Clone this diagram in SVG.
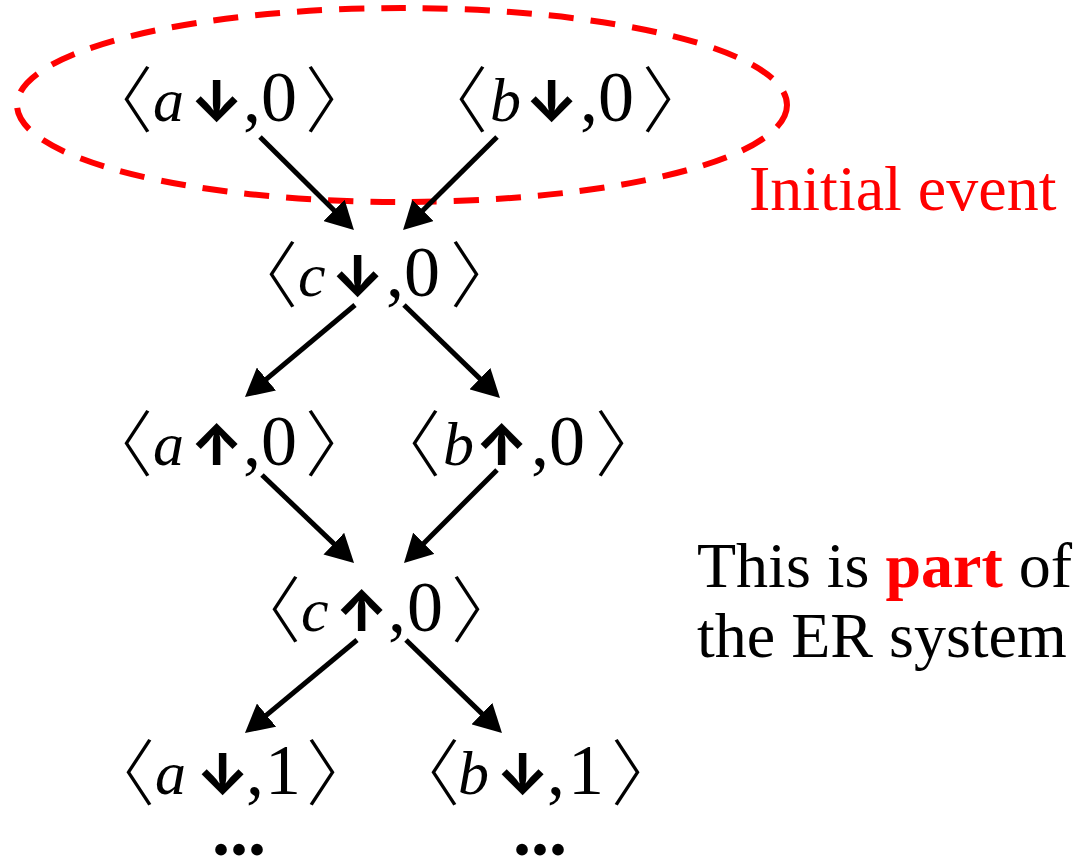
<svg xmlns="http://www.w3.org/2000/svg" width="1076" height="861" viewBox="0 0 1076 861">
<defs>
<style>
.br{font-family:"Noto Sans CJK SC",sans-serif;font-weight:300;font-size:72px;fill:#000}
.v{font-family:"Liberation Serif",serif;font-style:italic;font-size:62px;fill:#000}
.ar{font-family:Inter,sans-serif;font-weight:800;font-size:57px;fill:#000}
.d{font-family:"Liberation Serif",serif;font-size:72px;fill:#000}
.lbl{font-family:"Liberation Serif",serif;font-size:64px}
.conn{stroke:#000;stroke-width:5;fill:none;marker-end:url(#ah)}
</style>
<marker id="ah" viewBox="0 0 28 30" refX="13" refY="15" markerWidth="28" markerHeight="30" markerUnits="userSpaceOnUse" orient="auto">
<path d="M0,0 L28,15 L0,30 z" fill="#000"/>
</marker>
</defs>
<rect width="1076" height="861" fill="#fff"/>
<g id="initial-event">
<ellipse cx="402" cy="105" rx="385" ry="97" fill="none" stroke="#f00" stroke-width="6" stroke-dasharray="25 17"/>
<text class="lbl" x="749" y="210" fill="#f00">Initial event</text>
</g>
<g id="note">
<text class="lbl" x="697" y="587" fill="#000">This is <tspan font-weight="bold" fill="#f00">part</tspan> of</text>
<text class="lbl" x="697" y="657" fill="#000">the ER system</text>
</g>
<g id="connectors">
<path class="conn" d="M260,137 L343.3,219.5"/>
<path class="conn" d="M497,137 L413.7,219.5"/>
<path class="conn" d="M355,305 L256.5,387.4"/>
<path class="conn" d="M404,305 L489.2,387.6"/>
<path class="conn" d="M262,475 L343.2,552.6"/>
<path class="conn" d="M497,470 L414.6,552.4"/>
<path class="conn" d="M357,640 L256.5,723.4"/>
<path class="conn" d="M406,640 L491.2,722.6"/>
</g>
<g id="n-a-down-0" transform="translate(125,121)">
<text class="br" x="-44" y="5">〈</text><text class="v" x="28" y="0">a</text><text class="ar" x="65" y="0">↓</text><text class="d" x="118" y="0">,</text><text class="d" x="136" y="0">0</text><text class="br" x="180" y="5">〉</text>
</g>
<g id="n-b-down-0" transform="translate(460,121)">
<text class="br" x="-44" y="5">〈</text><text class="v" x="30" y="0">b</text><text class="ar" x="65" y="0">↓</text><text class="d" x="120" y="0">,</text><text class="d" x="138" y="0">0</text><text class="br" x="182" y="5">〉</text>
</g>
<g id="n-c-down-0" transform="translate(270,296)">
<text class="br" x="-44" y="5">〈</text><text class="v" x="28" y="0">c</text><text class="ar" x="61" y="0">↓</text><text class="d" x="116" y="0">,</text><text class="d" x="134" y="0">0</text><text class="br" x="180" y="5">〉</text>
</g>
<g id="n-a-up-0" transform="translate(125,465)">
<text class="br" x="-44" y="5">〈</text><text class="v" x="28" y="0">a</text><text class="ar" x="65" y="0">↑</text><text class="d" x="118" y="0">,</text><text class="d" x="136" y="0">0</text><text class="br" x="180" y="5">〉</text>
</g>
<g id="n-b-up-0" transform="translate(413,465)">
<text class="br" x="-44" y="5">〈</text><text class="v" x="30" y="0">b</text><text class="ar" x="62" y="0">↑</text><text class="d" x="118" y="0">,</text><text class="d" x="136" y="0">0</text><text class="br" x="182" y="5">〉</text>
</g>
<g id="n-c-up-0" transform="translate(273,631)">
<text class="br" x="-44" y="5">〈</text><text class="v" x="28" y="0">c</text><text class="ar" x="62" y="0">↑</text><text class="d" x="115" y="0">,</text><text class="d" x="134" y="0">0</text><text class="br" x="178" y="5">〉</text>
</g>
<g id="n-a-down-1" transform="translate(127,794)">
<text class="br" x="-44" y="5">〈</text><text class="v" x="28" y="0">a</text><text class="ar" x="69" y="0">↓</text><text class="d" x="119" y="0">,</text><text class="d" x="138" y="0">1</text><text class="br" x="179" y="5">〉</text>
</g>
<g id="n-b-down-1" transform="translate(432,794)">
<text class="br" x="-44" y="5">〈</text><text class="v" x="26" y="0">b</text><text class="ar" x="64" y="0">↓</text><text class="d" x="115" y="0">,</text><text class="d" x="136" y="0">1</text><text class="br" x="179" y="5">〉</text>
</g>
<g id="dots">
<text class="d" x="212" y="855" font-weight="bold" font-size="54">...</text>
<text class="d" x="513" y="855" font-weight="bold" font-size="54">...</text>
</g>
</svg>
